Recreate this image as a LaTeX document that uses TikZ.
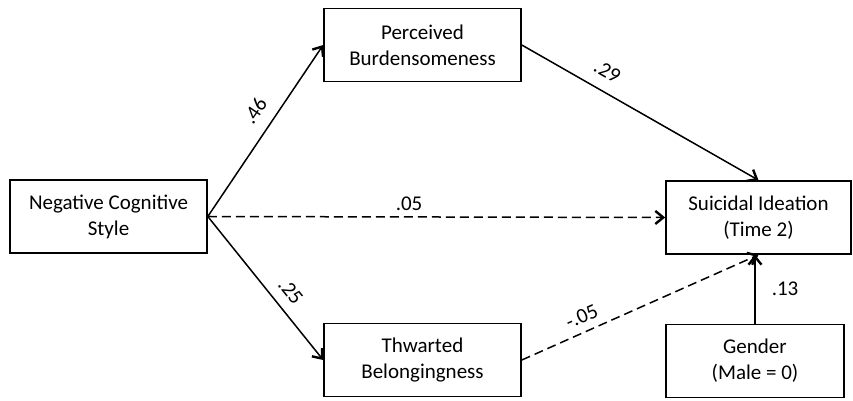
\documentclass[tikz,border=0pt]{standalone}
\usepackage{xcolor}
\usepackage{fontspec}
\setmainfont{Carlito}
\usepackage{tikz}
\usetikzlibrary{arrows.meta}

\begin{document}
\begin{tikzpicture}[x=0.5pt,y=0.5pt,
    box/.style={draw,line width=0.8pt,align=center,inner sep=0pt,minimum width=98.5pt,minimum height=36.5pt},
    path/.style={line width=0.75pt,-{Straight Barb[length=4pt,width=6.5pt,line width=1.2pt]}},
    weak/.style={path,dash pattern=on 4.5pt off 2.5pt},
    coef/.style={font=\fontsize{10.5}{13}\selectfont,inner sep=1pt},
    font=\fontsize{10.5}{13}\selectfont]
    \useasboundingbox (0,0) rectangle (853,401);
    \node[box] (ncs) at (108.5,184.5) {Negative Cognitive\\Style};
    \node[box] (pb) at (422.5,356) {Perceived\\Burdensomeness};
    \node[box] (tb) at (422.5,41) {Thwarted\\Belongingness};
    \node[box,minimum width=92.5pt] (si) at (758.5,183.5) {Suicidal Ideation\\(Time 2)};
    \node[box,minimum width=89pt] (gen) at (755,40) {Gender\\(Male = 0)};
    \draw[path] (ncs.east) -- node[coef,pos=0.55,above=5pt,sloped]{.46} (pb.west);
    \draw[path] (ncs.east) -- node[coef,pos=0.6,above=4pt,sloped]{.25} (tb.west);
    \draw[weak] (ncs.east) -- node[coef,pos=0.44,above=2pt]{.05} (si.west);
    \draw[path] (pb.east) -- node[coef,pos=0.32,above=5pt,sloped]{.29} (si.north);
    \draw[weak] (tb.east) -- node[coef,pos=0.28,above=3pt,sloped]{-.05} (si.south);
    \draw[path] (gen.north) -- node[coef,right=7pt]{.13} (gen.north |- si.south);
\end{tikzpicture}
\end{document}
